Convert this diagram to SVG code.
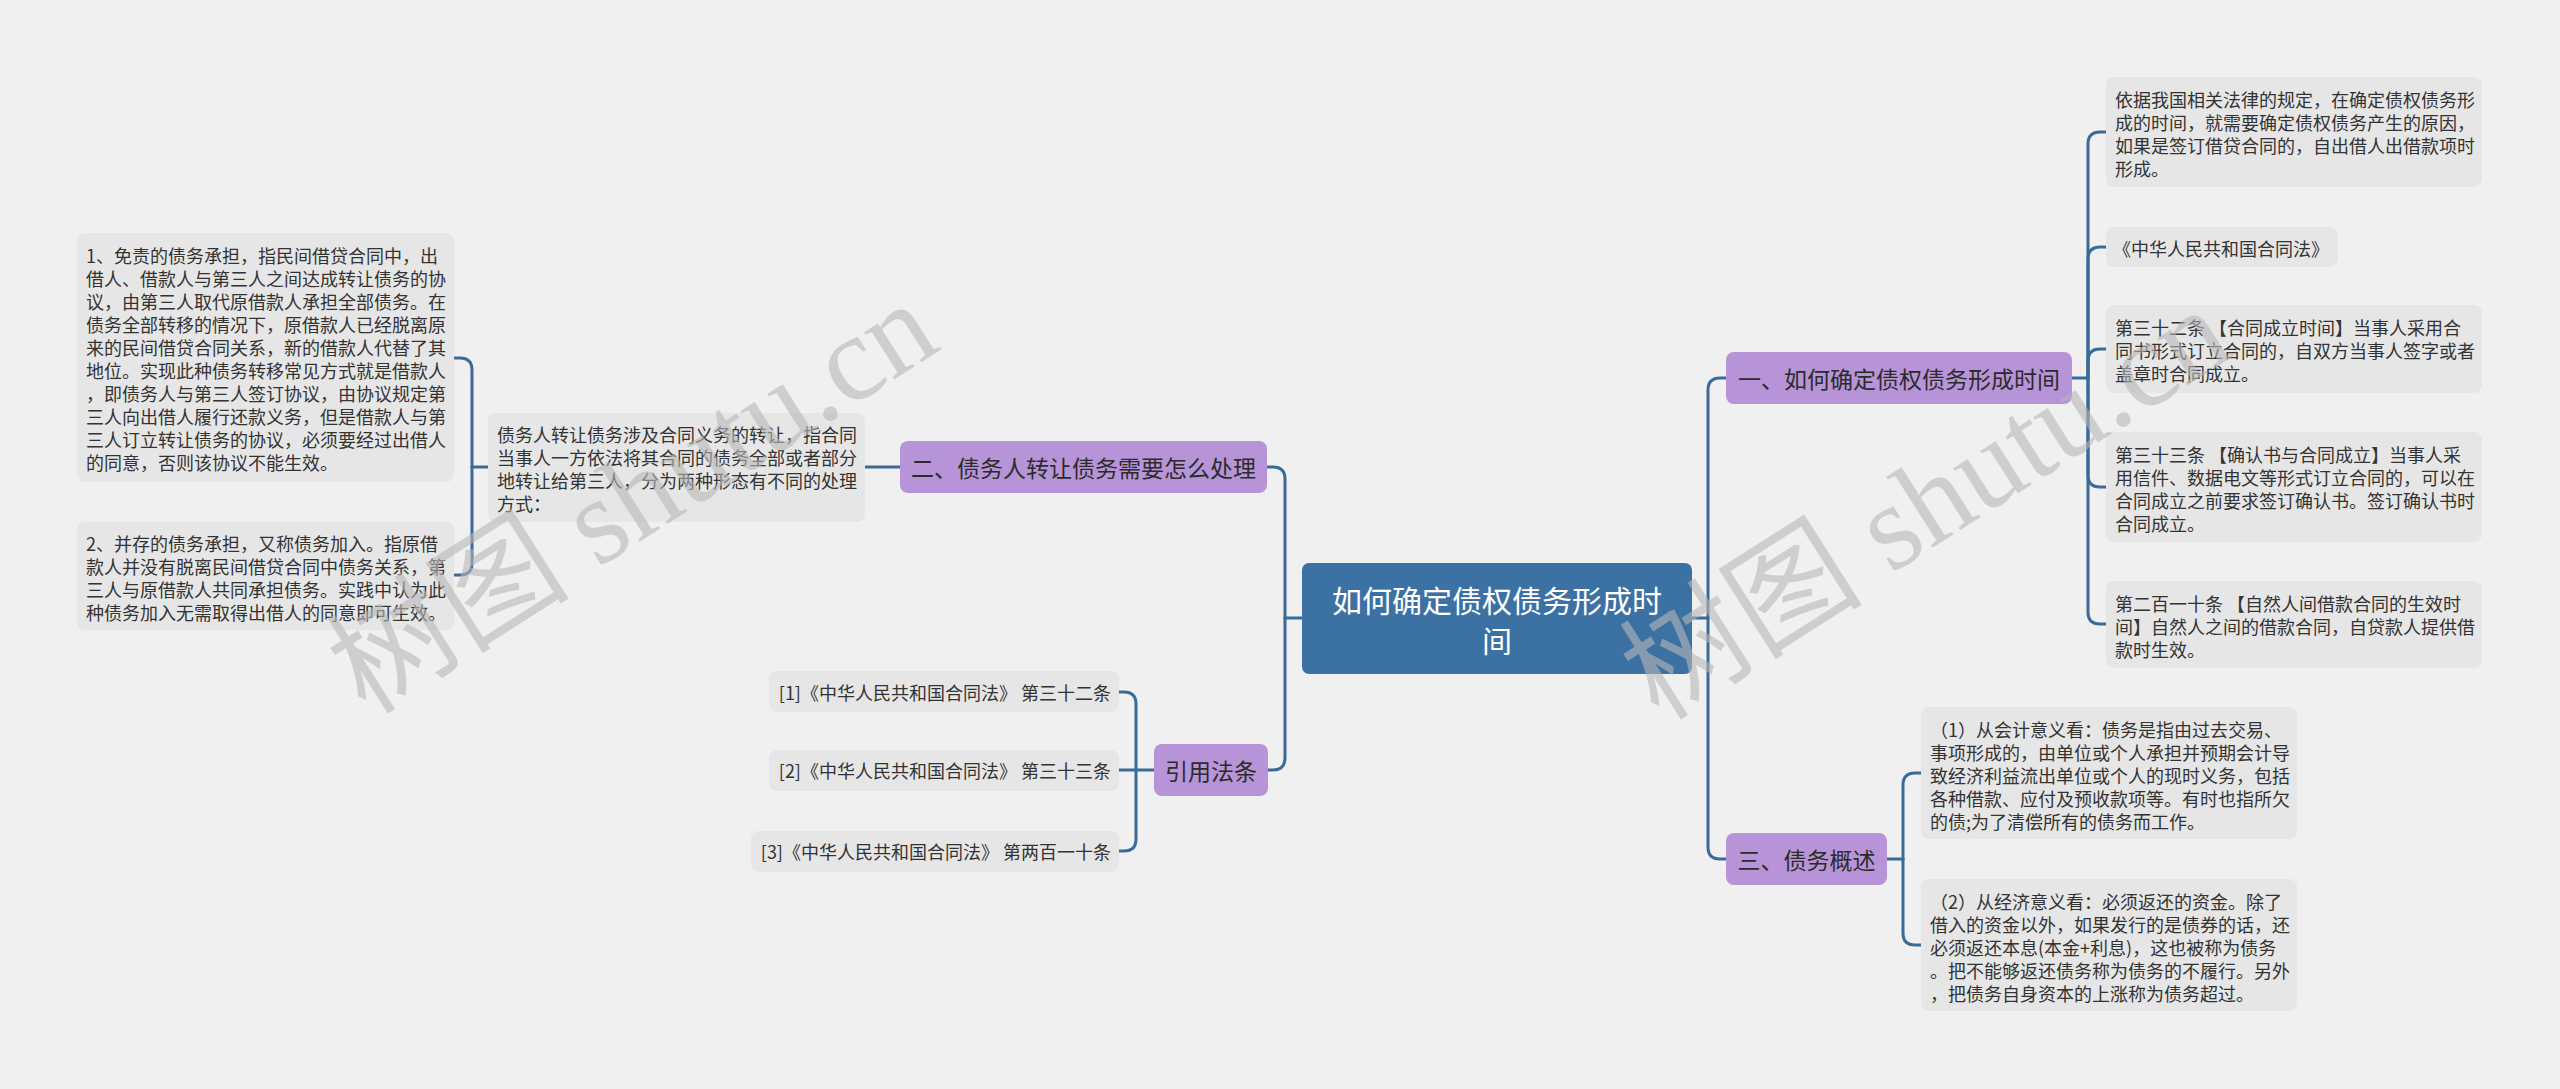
<svg xmlns="http://www.w3.org/2000/svg" width="2560" height="1089" viewBox="0 0 2560 1089">
<style>
.bg{fill:#f0f0f0}
.leaf{fill:#e6e6e6}
.branch{fill:#b794d7}
.root{fill:#3c71a4}
.t{font-family:"Noto Sans CJK SC","Noto Sans",sans-serif;font-size:18px;fill:#333333;dominant-baseline:central}
.tb{font-family:"Noto Sans CJK SC","Noto Sans",sans-serif;font-size:23px;fill:#2b2b2b;dominant-baseline:central;text-anchor:middle}
.tr{font-family:"Noto Sans CJK SC","Noto Sans",sans-serif;font-size:30px;fill:#ffffff;dominant-baseline:central;text-anchor:middle}
.c{fill:none;stroke:#3a6b98;stroke-width:3;stroke-linecap:round}
.wm{font-family:"Liberation Serif","Noto Sans CJK SC",serif;font-size:122px;fill:#b8b8b8;opacity:0.6}
</style>
<rect class="bg" x="0" y="0" width="2560" height="1089"/>
<g id="connectors">
<path class="c" d="M1302,618 H1285"/>
<path class="c" d="M1285,618 V479 Q1285,467 1273,467 H1267"/>
<path class="c" d="M1285,618 V758 Q1285,770 1273,770 H1267"/>
<path class="c" d="M900,467 H865"/>
<path class="c" d="M488,467 H472"/>
<path class="c" d="M472,467 V370 Q472,358 460,358 H455"/>
<path class="c" d="M472,467 V563 Q472,575 460,575 H455"/>
<path class="c" d="M1154,770 H1119"/>
<path class="c" d="M1136,770 V704 Q1136,692 1124,692 H1119"/>
<path class="c" d="M1136,770 V839 Q1136,851 1124,851 H1119"/>
<path class="c" d="M1692,618 H1708"/>
<path class="c" d="M1708,618 V390 Q1708,378 1720,378 H1726"/>
<path class="c" d="M1708,618 V847 Q1708,859 1720,859 H1726"/>
<path class="c" d="M2072,378 H2088"/>
<path class="c" d="M2088,378 V144 Q2088,132 2100,132 H2106"/>
<path class="c" d="M2088,378 V259 Q2088,247 2100,247 H2106"/>
<path class="c" d="M2088,378 V361 Q2088,349 2100,349 H2106"/>
<path class="c" d="M2088,378 V475 Q2088,487 2100,487 H2106"/>
<path class="c" d="M2088,378 V612 Q2088,624 2100,624 H2106"/>
<path class="c" d="M1887,859 H1903"/>
<path class="c" d="M1903,859 V785 Q1903,773 1915,773 H1921"/>
<path class="c" d="M1903,859 V933 Q1903,945 1915,945 H1921"/>
</g>
<g id="root">
<rect class="root" x="1302" y="563" width="390" height="111" rx="7"/>
<text class="tr" x="1497" y="599">如何确定债权债务形成时</text>
<text class="tr" x="1497" y="639">间</text>
</g>
<g id="b1">
<rect class="branch" x="1726" y="352" width="346" height="52" rx="8"/>
<text class="tb" x="1899" y="378">一、如何确定债权债务形成时间</text>
</g>
<g id="b2">
<rect class="branch" x="900" y="441" width="367" height="52" rx="8"/>
<text class="tb" x="1083.5" y="467">二、债务人转让债务需要怎么处理</text>
</g>
<g id="b3">
<rect class="branch" x="1726" y="833" width="161" height="52" rx="8"/>
<text class="tb" x="1806.5" y="859">三、债务概述</text>
</g>
<g id="b4">
<rect class="branch" x="1154" y="744" width="114" height="52" rx="8"/>
<text class="tb" x="1211" y="770">引用法条</text>
</g>
<g id="n1c1">
<rect class="leaf" x="2106" y="77" width="376" height="110" rx="8"/>
<text class="t" x="2115" y="99"><tspan x="2115">依据我国相关法律的规定，在确定债权债务形</tspan><tspan x="2115" dy="23">成的时间，就需要确定债权债务产生的原因，</tspan><tspan x="2115" dy="23">如果是签订借贷合同的，自出借人出借款项时</tspan><tspan x="2115" dy="23">形成。</tspan></text>
</g>
<g id="n1c2">
<rect class="leaf" x="2106" y="227" width="232" height="40" rx="8"/>
<text class="t" x="2113" y="248">《中华人民共和国合同法》</text>
</g>
<g id="n1c3">
<rect class="leaf" x="2106" y="305" width="376" height="88" rx="8"/>
<text class="t" x="2115" y="327"><tspan x="2115">第三十二条 【合同成立时间】当事人采用合</tspan><tspan x="2115" dy="23">同书形式订立合同的，自双方当事人签字或者</tspan><tspan x="2115" dy="23">盖章时合同成立。</tspan></text>
</g>
<g id="n1c4">
<rect class="leaf" x="2106" y="432" width="376" height="110" rx="8"/>
<text class="t" x="2115" y="454"><tspan x="2115">第三十三条 【确认书与合同成立】当事人采</tspan><tspan x="2115" dy="23">用信件、数据电文等形式订立合同的，可以在</tspan><tspan x="2115" dy="23">合同成立之前要求签订确认书。签订确认书时</tspan><tspan x="2115" dy="23">合同成立。</tspan></text>
</g>
<g id="n1c5">
<rect class="leaf" x="2106" y="581" width="376" height="87" rx="8"/>
<text class="t" x="2115" y="603"><tspan x="2115">第二百一十条 【自然人间借款合同的生效时</tspan><tspan x="2115" dy="23">间】自然人之间的借款合同，自贷款人提供借</tspan><tspan x="2115" dy="23">款时生效。</tspan></text>
</g>
<g id="n3c1">
<rect class="leaf" x="1921" y="707" width="376" height="132" rx="8"/>
<text class="t" x="1930" y="729"><tspan x="1930">（1）从会计意义看：债务是指由过去交易、</tspan><tspan x="1930" dy="23">事项形成的，由单位或个人承担并预期会计导</tspan><tspan x="1930" dy="23">致经济利益流出单位或个人的现时义务，包括</tspan><tspan x="1930" dy="23">各种借款、应付及预收款项等。有时也指所欠</tspan><tspan x="1930" dy="23">的债;为了清偿所有的债务而工作。</tspan></text>
</g>
<g id="n3c2">
<rect class="leaf" x="1921" y="879" width="376" height="132" rx="8"/>
<text class="t" x="1930" y="901"><tspan x="1930">（2）从经济意义看：必须返还的资金。除了</tspan><tspan x="1930" dy="23">借入的资金以外，如果发行的是债券的话，还</tspan><tspan x="1930" dy="23">必须返还本息(本金+利息)，这也被称为债务</tspan><tspan x="1930" dy="23">。把不能够返还债务称为债务的不履行。另外</tspan><tspan x="1930" dy="23">，把债务自身资本的上涨称为债务超过。</tspan></text>
</g>
<g id="n2mid">
<rect class="leaf" x="488" y="413" width="377" height="109" rx="8"/>
<text class="t" x="497" y="434"><tspan x="497">债务人转让债务涉及合同义务的转让，指合同</tspan><tspan x="497" dy="23">当事人一方依法将其合同的债务全部或者部分</tspan><tspan x="497" dy="23">地转让给第三人，分为两种形态有不同的处理</tspan><tspan x="497" dy="23">方式：</tspan></text>
</g>
<g id="n2c1">
<rect class="leaf" x="77" y="233" width="377" height="249" rx="8"/>
<text class="t" x="86" y="255"><tspan x="86">1、免责的债务承担，指民间借贷合同中，出</tspan><tspan x="86" dy="23">借人、借款人与第三人之间达成转让债务的协</tspan><tspan x="86" dy="23">议，由第三人取代原借款人承担全部债务。在</tspan><tspan x="86" dy="23">债务全部转移的情况下，原借款人已经脱离原</tspan><tspan x="86" dy="23">来的民间借贷合同关系，新的借款人代替了其</tspan><tspan x="86" dy="23">地位。实现此种债务转移常见方式就是借款人</tspan><tspan x="86" dy="23">，即债务人与第三人签订协议，由协议规定第</tspan><tspan x="86" dy="23">三人向出借人履行还款义务，但是借款人与第</tspan><tspan x="86" dy="23">三人订立转让债务的协议，必须要经过出借人</tspan><tspan x="86" dy="23">的同意，否则该协议不能生效。</tspan></text>
</g>
<g id="n2c2">
<rect class="leaf" x="77" y="522" width="377" height="108" rx="8"/>
<text class="t" x="86" y="543"><tspan x="86">2、并存的债务承担，又称债务加入。指原借</tspan><tspan x="86" dy="23">款人并没有脱离民间借贷合同中债务关系，第</tspan><tspan x="86" dy="23">三人与原借款人共同承担债务。实践中认为此</tspan><tspan x="86" dy="23">种债务加入无需取得出借人的同意即可生效。</tspan></text>
</g>
<g id="cite1">
<rect class="leaf" x="769" y="671" width="350" height="41" rx="8"/>
<text class="t" x="1111" y="692" text-anchor="end">[1]《中华人民共和国合同法》 第三十二条</text>
</g>
<g id="cite2">
<rect class="leaf" x="769" y="750" width="350" height="41" rx="8"/>
<text class="t" x="1111" y="770" text-anchor="end">[2]《中华人民共和国合同法》 第三十三条</text>
</g>
<g id="cite3">
<rect class="leaf" x="751" y="831" width="368" height="41" rx="8"/>
<text class="t" x="1111" y="851" text-anchor="end">[3]《中华人民共和国合同法》 第两百一十条</text>
</g>
<g id="watermarks">
<text class="wm" transform="translate(366,716) rotate(-32.5)">树图 shutu.cn</text>
<text class="wm" transform="translate(1659,722) rotate(-32.5)">树图 shutu.cn</text>
</g>
</svg>
